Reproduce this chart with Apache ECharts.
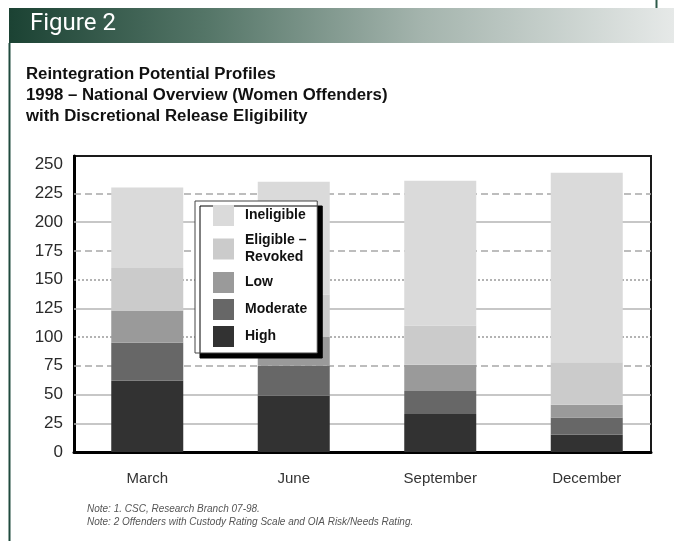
<!DOCTYPE html>
<html><head><meta charset="utf-8">
<script src="https://cdn.jsdelivr.net/npm/echarts@6/dist/echarts.min.js"></script>
<style>html,body{margin:0;padding:0;background:#fff}#c{width:674px;height:541px}</style>
</head><body><div id="c"></div>
<script>
// ---- data ----
const categories = ['March', 'June', 'September', 'December'];
const high = [62, 49, 33, 15];
const moderate = [33, 26, 20, 15];
const low = [28, 25, 23, 11];
const eligibleRevoked = [37, 37, 34, 37];
const ineligible = [70, 98, 126, 165];
const yTickLabels = [0, 25, 50, 75, 100, 125, 150, 175, 200, 225, 250];
const gridlineValues = [25, 50, 75, 100, 125, 150, 175, 200, 225];
const seriesNames = ['High', 'Moderate', 'Low', 'Eligible –\nRevoked', 'Ineligible'];
const titleLines = ['Reintegration Potential Profiles', '1998 – National Overview (Women Offenders)', 'with Discretional Release Eligibility'];
const notes = ['Note: 1. CSC, Research Branch 07-98.', 'Note: 2 Offenders with Custody Rating Scale and OIA Risk/Needs Rating.'];

// ---- styles ----
const gridlineType = {25:'solid',50:'solid',75:'dashed',100:'dotted',125:'solid',150:'dotted',175:'dashed',200:'solid',225:'dashed'};
const gridlineColor = {solid:'#b4b4b4', dashed:'#a8a8a8', dotted:'#9a9a9a'};
const seriesColors = ['#323232', '#676767', '#9a9a9a', '#cbcbcb', '#dadada'];
const seriesValues = [high, moderate, low, eligibleRevoked, ineligible];

const chart = echarts.init(document.getElementById('c'), null, {renderer: 'canvas'});

const Y_MAX = 257.5;
const barSeries = seriesNames.map((name, i) => ({
  name: name,
  type: 'bar',
  stack: 'total',
  xAxisIndex: 1,
  yAxisIndex: 1,
  barWidth: 72,
  z: 6,
  itemStyle: {color: seriesColors[i]},
  emphasis: {disabled: true},
  data: seriesValues[i]
}));

const gridSeries = {
  type: 'line',
  xAxisIndex: 0,
  yAxisIndex: 0,
  data: [],
  z: 1,
  silent: true,
  markLine: {
    silent: true,
    z: 1,
    symbol: 'none',
    label: {show: false},
    animation: false,
    data: gridlineValues.map(v => {
      const t = gridlineType[v];
      return {
        yAxis: v,
        lineStyle: {
          type: t === 'dashed' ? [7, 4] : (t === 'dotted' ? [2, 2] : 'solid'),
          color: gridlineColor[t],
          width: 1.5
        }
      };
    })
  }
};

chart.setOption({
  animation: false,
  backgroundColor: '#ffffff',
  title: {
    text: titleLines.join('\n'),
    left: 21,
    top: 59,
    textStyle: {
      fontFamily: 'Liberation Sans',
      fontWeight: 'bold',
      fontSize: 16.8,
      lineHeight: 21,
      color: '#111'
    }
  },
  grid: [
    {left: 74, right: 23, top: 156, bottom: 89, show: true, borderColor: '#1a1a1a', borderWidth: 2, backgroundColor: 'transparent'},
    {left: 74, right: 14, top: 156, bottom: 89}
  ],
  xAxis: [
    {gridIndex: 0, type: 'category', data: categories,
     axisLine: {show: true, lineStyle: {color: '#000', width: 3}},
     axisTick: {show: false}, axisLabel: {show: false}, splitLine: {show: false}},
    {gridIndex: 1, type: 'category', data: categories,
     axisLine: {show: false}, axisTick: {show: false}, splitLine: {show: false},
     axisLabel: {show: true, margin: 19, color: '#333', fontFamily: 'Liberation Sans', fontSize: 15}}
  ],
  yAxis: [
    {gridIndex: 0, type: 'value', min: 0, max: Y_MAX, interval: 25,
     axisLine: {show: true, lineStyle: {color: '#000', width: 3}},
     axisTick: {show: false},
     splitLine: {show: false},
     axisLabel: {show: true, margin: 11, color: '#2a2a2a', fontFamily: 'Liberation Sans', fontSize: 17,
       formatter: v => (yTickLabels.indexOf(v) >= 0 ? String(v) : '')}},
    {gridIndex: 1, type: 'value', min: 0, max: Y_MAX, interval: 25, show: false,
     splitLine: {show: false}}
  ],
  legend: {
    data: seriesNames.slice().reverse(),
    orient: 'vertical',
    left: 195,
    top: 201,
    z: 20,
    itemWidth: 21,
    itemHeight: 21,
    itemGap: 6,
    padding: [4, 10, 6, 18],
    backgroundColor: '#ffffff',
    borderColor: '#444',
    borderWidth: 1,
    shadowColor: '#000',
    shadowOffsetX: 5,
    shadowOffsetY: 5,
    shadowBlur: 0,
    selectedMode: false,
    icon: 'rect',
    textStyle: {fontFamily: 'Liberation Sans', fontWeight: 'bold', fontSize: 14, lineHeight: 17, color: '#111', padding: [0, 0, 0, 6]}
  },
  graphic: [
    {type: 'rect', z: 100, shape: {x: 9, y: 8, width: 665, height: 35},
     style: {fill: new echarts.graphic.LinearGradient(0, 0, 1, 0, [
       {offset: 0, color: '#1b4233'},
       {offset: 0.3, color: '#557668'},
       {offset: 0.62, color: '#a4b4ad'},
       {offset: 1, color: '#e6e9e8'}])}},
    {type: 'text', z: 101, left: 30, top: 12,
     style: {text: 'Figure 2', fill: '#ffffff', font: '24px Roboto'}},
    {type: 'line', z: 100, shape: {x1: 9.5, y1: 43, x2: 9.5, y2: 541}, style: {stroke: '#1f4a3d', lineWidth: 2}},
    {type: 'line', z: 100, shape: {x1: 656.5, y1: 0, x2: 656.5, y2: 8}, style: {stroke: '#2d5a4a', lineWidth: 2}},
    {type: 'text', z: 101, left: 87, top: 503,
     style: {text: notes.join('\n'), fill: '#555', font: 'italic 10px "Liberation Sans"', lineHeight: 13}}
  ],
  series: [gridSeries].concat(barSeries)
});
</script>
</body></html>
